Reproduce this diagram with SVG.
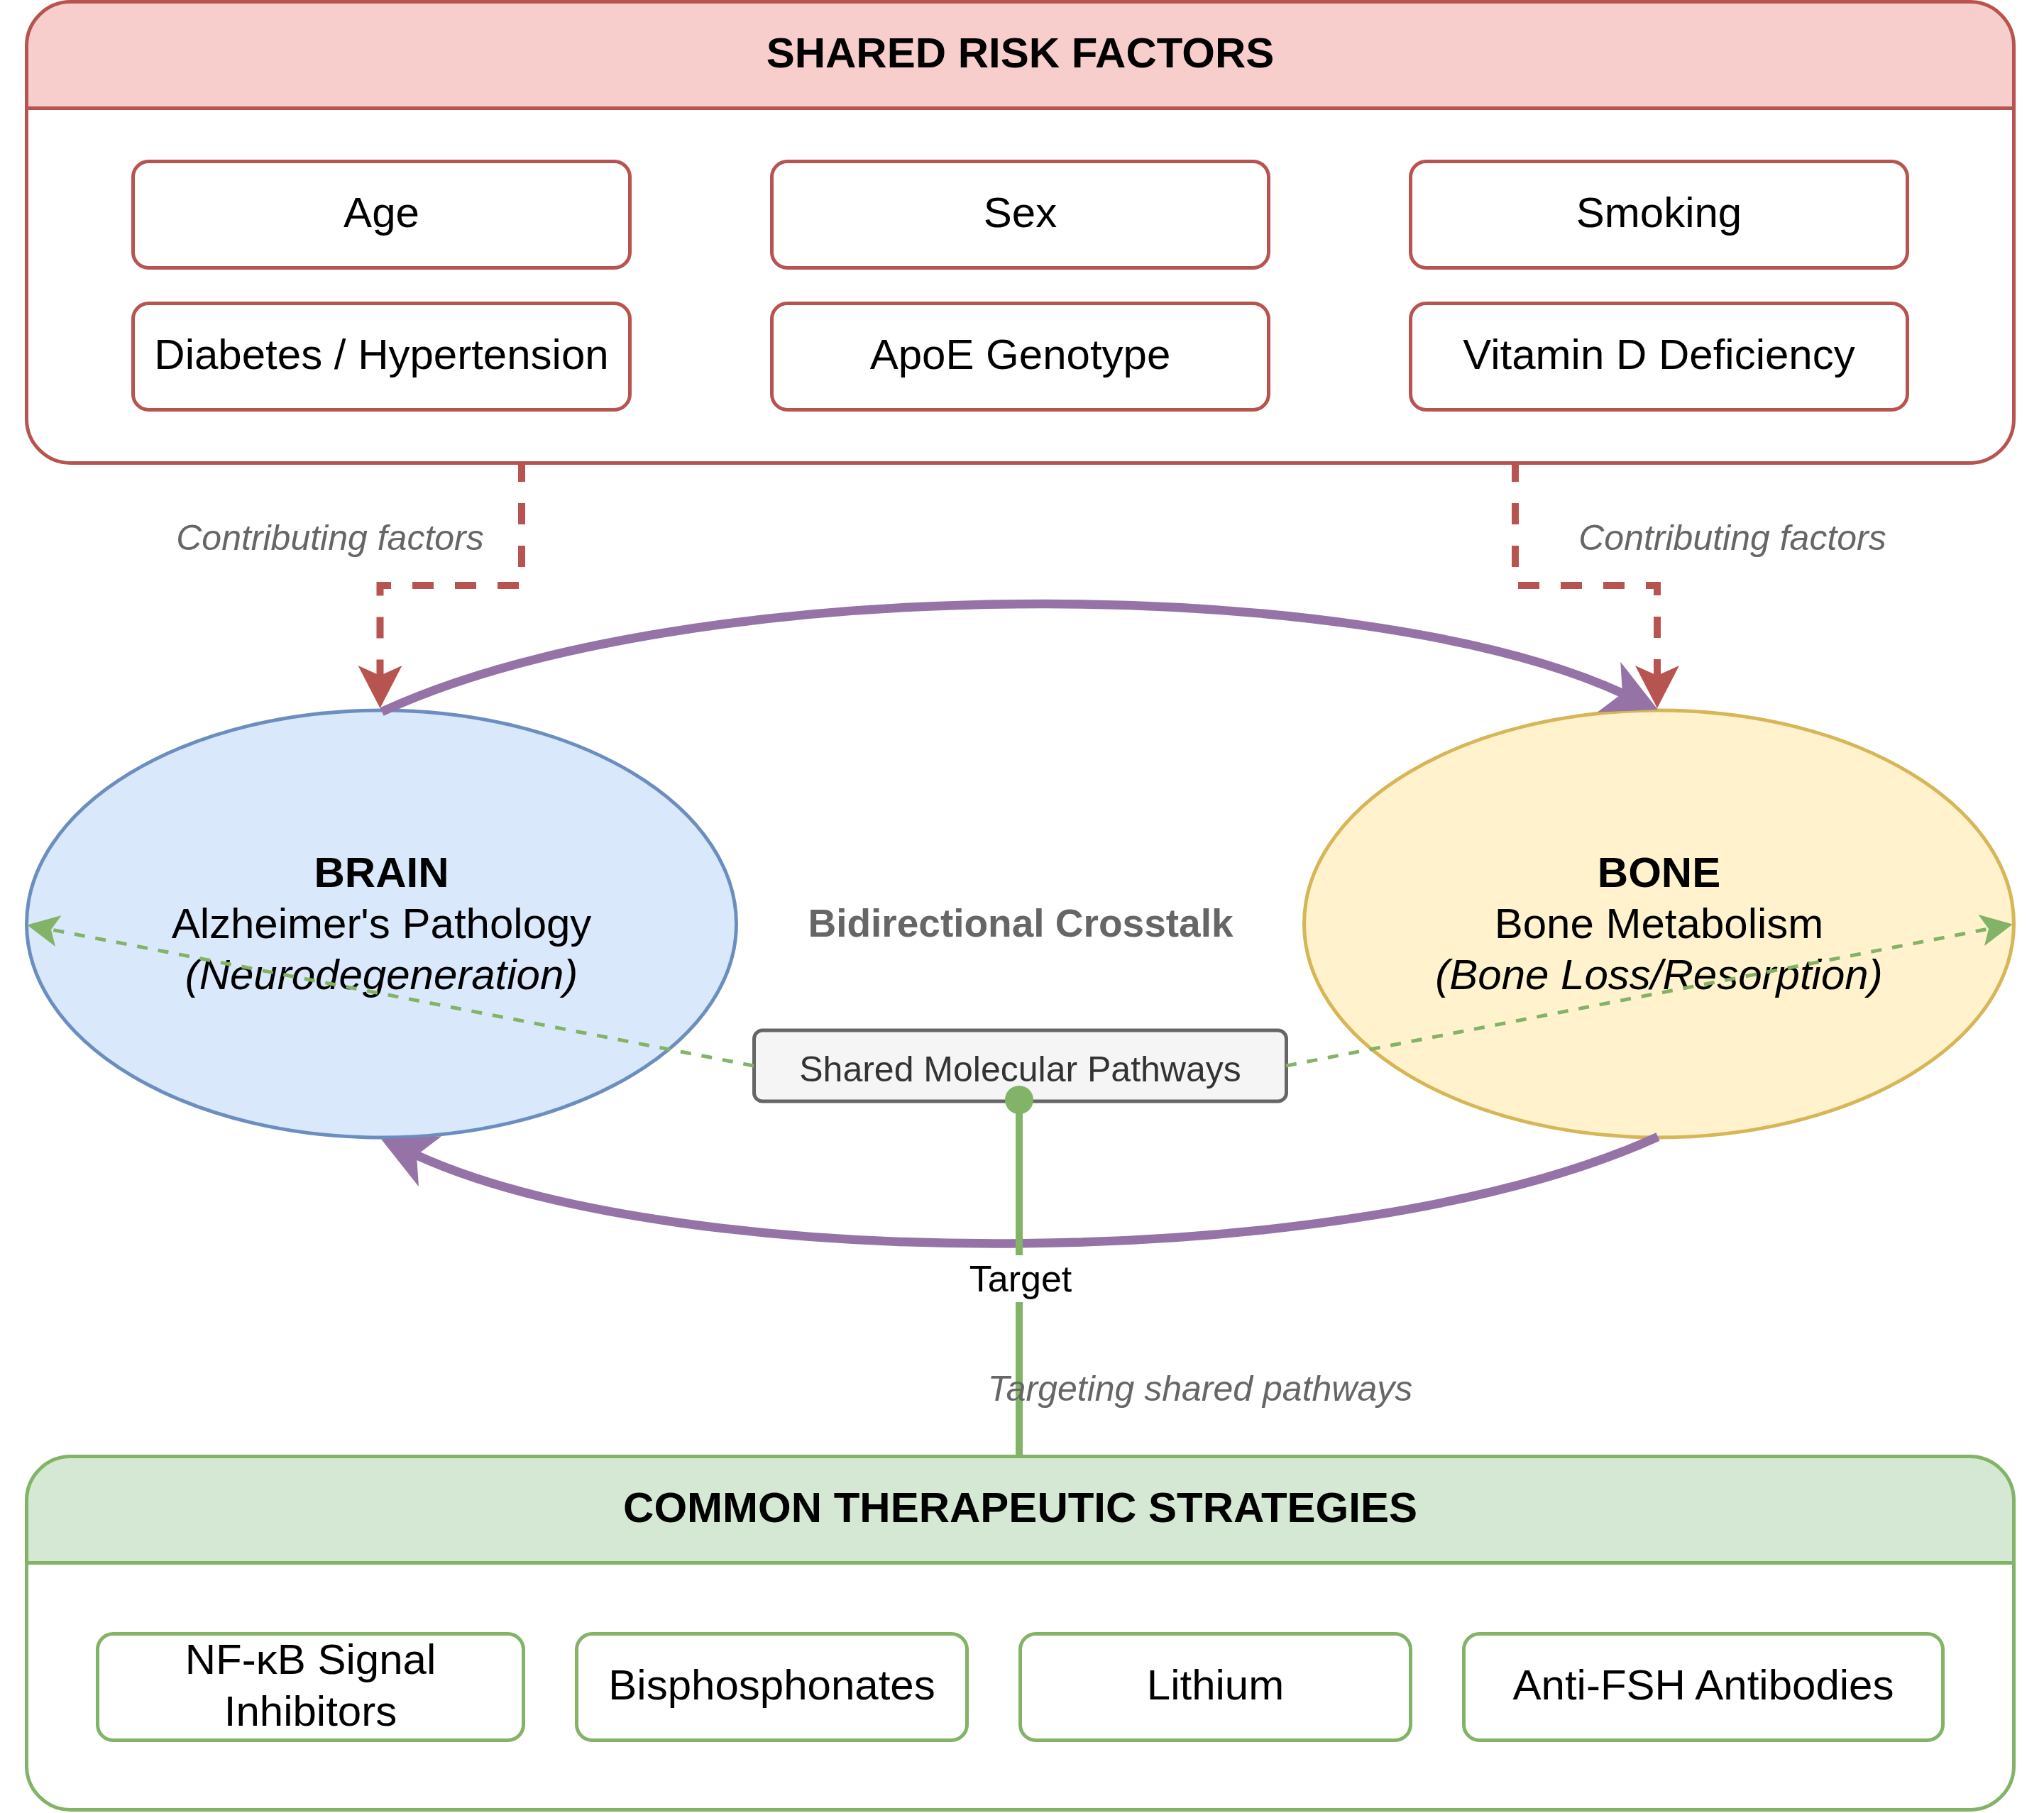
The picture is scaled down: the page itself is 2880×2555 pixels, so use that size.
<svg xmlns="http://www.w3.org/2000/svg" width="2880" height="2555" viewBox="0 0 2880 2555">
<style>
.t{font-family:"Liberation Sans",Arial,Helvetica,sans-serif;text-anchor:middle;fill:#000}
.s60{font-size:60px}
.s50{font-size:50px}
.b{font-weight:bold}
.i{font-style:italic}
.gray{fill:#666666}
.rbox{fill:#ffffff;stroke:#b85450;stroke-width:5}
.gbox{fill:#ffffff;stroke:#82b366;stroke-width:5}
</style>
<defs>
<marker id="arrRed" markerUnits="userSpaceOnUse" viewBox="0 -40 80 80" markerWidth="80" markerHeight="80" refX="14" refY="0" orient="auto" overflow="visible">
<path d="M60,0 L0,-31 L14,0 L0,31 Z" fill="#b85450"/>
</marker>
<marker id="arrPurple" markerUnits="userSpaceOnUse" viewBox="0 -45 90 90" markerWidth="90" markerHeight="90" refX="21" refY="0" orient="auto" overflow="visible">
<path d="M76,0 L0,-39 L21,0 L0,39 Z" fill="#9673a6"/>
</marker>
<marker id="arrGreen" markerUnits="userSpaceOnUse" viewBox="0 -25 50 50" markerWidth="50" markerHeight="50" refX="10.5" refY="0" orient="auto" overflow="visible">
<path d="M45,0 L0,-22.5 L10.5,0 L0,22.5 Z" fill="#82b366"/>
</marker>
</defs>
<rect width="2880" height="2555" fill="#ffffff"/>

<g id="risk-factors">
<path d="M37.5,152.5 V64.5 A62,62 0 0 1 99.5,2.5 H2775.5 A62,62 0 0 1 2837.5,64.5 V152.5 Z" fill="#f8cecc"/>
<rect x="37.5" y="2.5" width="2800" height="650" rx="62" ry="62" fill="none" stroke="#b85450" stroke-width="5"/>
<line x1="37.5" y1="152.5" x2="2837.5" y2="152.5" stroke="#b85450" stroke-width="5"/>
<text class="t s60 b" x="1437.5" y="95">SHARED RISK FACTORS</text>
</g>
<g id="rf-age"><rect class="rbox" x="187.5" y="227.5" width="700" height="150" rx="22"/><text class="t s60" x="537.5" y="320">Age</text></g>
<g id="rf-sex"><rect class="rbox" x="1087.5" y="227.5" width="700" height="150" rx="22"/><text class="t s60" x="1437.5" y="320">Sex</text></g>
<g id="rf-smoking"><rect class="rbox" x="1987.5" y="227.5" width="700" height="150" rx="22"/><text class="t s60" x="2337.5" y="320">Smoking</text></g>
<g id="rf-diabetes"><rect class="rbox" x="187.5" y="427.5" width="700" height="150" rx="22"/><text class="t s60" x="537.5" y="520">Diabetes / Hypertension</text></g>
<g id="rf-apoe"><rect class="rbox" x="1087.5" y="427.5" width="700" height="150" rx="22"/><text class="t s60" x="1437.5" y="520">ApoE Genotype</text></g>
<g id="rf-vitd"><rect class="rbox" x="1987.5" y="427.5" width="700" height="150" rx="22"/><text class="t s60" x="2337.5" y="520">Vitamin D Deficiency</text></g>

<g id="brain">
<ellipse cx="537.5" cy="1302" rx="500" ry="301" fill="#dae8fc" stroke="#6c8ebf" stroke-width="5"/>
<text class="t s60 b" x="537.5" y="1250">BRAIN</text>
<text class="t s60" x="537.5" y="1322">Alzheimer's Pathology</text>
<text class="t s60 i" x="537.5" y="1394">(Neurodegeneration)</text>
</g>
<g id="bone">
<ellipse cx="2337.5" cy="1302" rx="500" ry="301" fill="#fff2cc" stroke="#d6b656" stroke-width="5"/>
<text class="t s60 b" x="2337.5" y="1250">BONE</text>
<text class="t s60" x="2337.5" y="1322">Bone Metabolism</text>
<text class="t s60 i" x="2337.5" y="1394">(Bone Loss/Resorption)</text>
</g>
<g id="crosstalk-label">
<text class="t b gray" style="font-size:55px" x="1438" y="1320">Bidirectional Crosstalk</text>
</g>
<g id="shared-pathways">
<rect x="1062.5" y="1452" width="750" height="100" rx="12" fill="#f5f5f5" stroke="#666666" stroke-width="5"/>
<text class="t s50" style="fill:#333333" x="1437.5" y="1524">Shared Molecular Pathways</text>
</g>

<g id="therapeutic">
<path d="M37.5,2202.5 V2114.5 A62,62 0 0 1 99.5,2052.5 H2775.5 A62,62 0 0 1 2837.5,2114.5 V2202.5 Z" fill="#d5e8d4"/>
<rect x="37.5" y="2052.5" width="2800" height="498" rx="62" ry="62" fill="none" stroke="#82b366" stroke-width="5"/>
<line x1="37.5" y1="2202.5" x2="2837.5" y2="2202.5" stroke="#82b366" stroke-width="5"/>
<text class="t s60 b" x="1437.5" y="2145">COMMON THERAPEUTIC STRATEGIES</text>
</g>
<g id="tx-nfkb"><rect class="gbox" x="137.5" y="2302.5" width="600" height="150" rx="22"/><text class="t s60" x="437.5" y="2359">NF-κB Signal</text><text class="t s60" x="437.5" y="2432">Inhibitors</text></g>
<g id="tx-bisph"><rect class="gbox" x="812.5" y="2302.5" width="550" height="150" rx="22"/><text class="t s60" x="1087.5" y="2395">Bisphosphonates</text></g>
<g id="tx-lithium"><rect class="gbox" x="1437.5" y="2302.5" width="550" height="150" rx="22"/><text class="t s60" x="1712.5" y="2395">Lithium</text></g>
<g id="tx-antifsh"><rect class="gbox" x="2062.5" y="2302.5" width="675" height="150" rx="22"/><text class="t s60" x="2400" y="2395">Anti-FSH Antibodies</text></g>

<g id="connectors">
<path d="M735,652 V825 H535.5 V952" fill="none" stroke="#b85450" stroke-width="10" stroke-dasharray="30 30" stroke-dashoffset="3" marker-end="url(#arrRed)"/>
<path d="M2135,652 V825 H2335 V952" fill="none" stroke="#b85450" stroke-width="10" stroke-dasharray="30 30" stroke-dashoffset="3" marker-end="url(#arrRed)"/>
<text class="t s50 i gray" x="465" y="775">Contributing factors</text>
<text class="t s50 i gray" x="2441" y="775">Contributing factors</text>
<path d="M538,1003 C967,805 1912,805 2286,977" fill="none" stroke="#9673a6" stroke-width="12.5" marker-end="url(#arrPurple)"/>
<path d="M2336,1602 C1907,1798 961,1798 587,1628" fill="none" stroke="#9673a6" stroke-width="12.5" marker-end="url(#arrPurple)"/>
<path d="M1062,1502 L72,1310" fill="none" stroke="#82b366" stroke-width="5" stroke-dasharray="15 15" marker-end="url(#arrGreen)"/>
<path d="M1812,1502 L2802,1309" fill="none" stroke="#82b366" stroke-width="5" stroke-dasharray="15 15" marker-end="url(#arrGreen)"/>
<line x1="1436" y1="1550" x2="1436" y2="2052" stroke="#82b366" stroke-width="10"/>
<circle cx="1436" cy="1550" r="20" fill="#82b366"/>
<rect x="1360" y="1769" width="156" height="66" fill="#ffffff"/>
<text class="t" style="font-size:52px" x="1438" y="1820">Target</text>
<text class="t s50 i gray" x="1691" y="1974">Targeting shared pathways</text>
</g>
</svg>
